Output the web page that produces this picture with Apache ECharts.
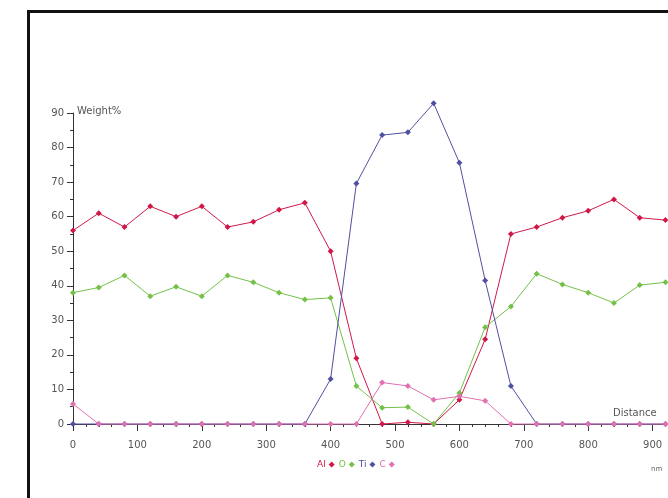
<!DOCTYPE html>
<html>
<head>
<meta charset="utf-8">
<script src="https://cdn.jsdelivr.net/npm/echarts@6/dist/echarts.min.js"></script>
<style>
html,body{margin:0;padding:0;background:#fff}
#main{width:668px;height:498px}
</style>
</head>
<body>
<div id="main"></div>
<script>
// distance, nm (every 40)
var distance=[0,40,80,120,160,200,240,280,320,360,400,440,480,520,560,600,640,680,720,760,800,840,880,920]
var al=[56,61,57,63,60,63,57,58.5,62,64,50,19,0,0.5,0,7,24.5,55,57,59.7,61.7,65,59.7,59]
var o=[38,39.5,43,37,39.7,37,43,41,38,36,36.5,11,4.7,4.9,0,9,28,34,43.5,40.4,38,35,40.2,41]
var ti=[0,0,0,0,0,0,0,0,0,0,13,69.6,83.6,84.4,92.8,75.6,41.5,11,0,0,0,0,0,0]
var c=[5.8,0,0,0,0,0,0,0,0,0,0,0,12,11,7,8,6.7,0,0,0,0,0,0,0]
var names=['Al','O','Ti','C']
var colors=['#d01848','#74c048','#5050a0','#e070b0']

function pairs(ys){
    var out=[]
    for(var i=0;i<distance.length;i++) out.push([distance[i],ys[i]])
    return out
}

function mkSeries(name,ys,col){
    return {
        name:name,
        type:'line',
        data:pairs(ys),
        clip:false,
        symbol:'diamond',
        symbolSize:6,
        lineStyle:{width:1,color:col},
        itemStyle:{color:col},
        emphasis:{disabled:true},
        animation:false
    }
}

var myChart=echarts.init(document.getElementById('main'))
var axisCol='#333'
var font='DejaVu Sans'
option={
    animation:false,
    color:colors,
    grid:{left:73,top:113,bottom:74,right:-49,outerBoundsMode:'none',containLabel:false},
    legend:{
        bottom:24,left:312,
        align:'right',
        itemWidth:6,itemHeight:6,itemGap:4,
        icon:'diamond',
        textStyle:{fontSize:9,fontFamily:font,padding:[0,-2,0,0]},
        data:names.map(function(n,i){return {name:n,textStyle:{color:colors[i]}}})
    },
    xAxis:{
        type:'value',min:0,max:1000,interval:100,
        axisLine:{lineStyle:{color:axisCol,width:1}},
        axisTick:{length:7,lineStyle:{color:axisCol}},
        minorTick:{show:true,splitNumber:5,length:3,lineStyle:{color:axisCol}},
        splitLine:{show:false},
        axisLabel:{color:'#555',fontSize:10,fontFamily:font,margin:16}
    },
    yAxis:{
        type:'value',min:0,max:90,interval:10,
        axisLine:{show:true,lineStyle:{color:axisCol,width:1}},
        axisTick:{show:true,length:6,lineStyle:{color:axisCol}},
        minorTick:{show:true,splitNumber:2,length:3,lineStyle:{color:axisCol}},
        splitLine:{show:false},
        axisLabel:{color:'#555',fontSize:10,fontFamily:font,margin:9}
    },
    graphic:[
        {type:'rect',shape:{x:28.5,y:11.5,width:800,height:600},style:{fill:'none',stroke:'#111',lineWidth:3}},
        {type:'text',left:77,top:106,style:{text:'Weight%',fontSize:10,fill:'#555',fontFamily:font}},
        {type:'text',left:613,top:408,style:{text:'Distance',fontSize:10,fill:'#555',fontFamily:font}},
        {type:'text',left:651,top:466,style:{text:'nm',fontSize:7,fill:'#666',fontFamily:font}}
    ],
    series:[
        mkSeries('Al',al,colors[0]),
        mkSeries('O',o,colors[1]),
        mkSeries('Ti',ti,colors[2]),
        mkSeries('C',c,colors[3])
    ]
}
myChart.setOption(option)
</script>
</body>
</html>
